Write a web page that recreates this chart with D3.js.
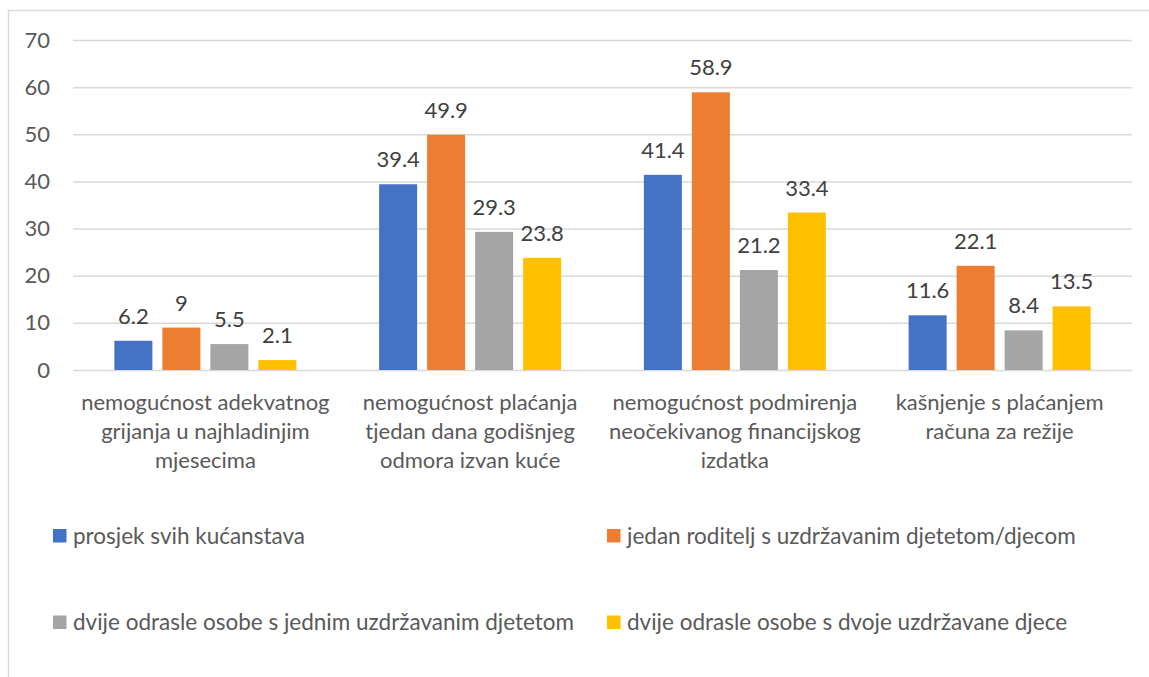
<!DOCTYPE html>
<html>
<head>
<meta charset="utf-8">
<script src="https://cdn.jsdelivr.net/npm/d3@7"></script>
<style>
  body { margin: 0; background: #fff; }
  text { font-family: Lato, "Open Sans", sans-serif; }
</style>
</head>
<body>
<svg id="chart" width="1149" height="677"></svg>
<script>
const categories = [
    ["nemogućnost adekvatnog", "grijanja u najhladinjim", "mjesecima"],
    ["nemogućnost plaćanja", "tjedan dana godišnjeg", "odmora izvan kuće"],
    ["nemogućnost podmirenja", "neočekivanog financijskog", "izdatka"],
    ["kašnjenje s plaćanjem", "računa za režije"]
];
const seriesNames = [
    "prosjek svih kućanstava",
    "jedan roditelj s uzdržavanim djetetom/djecom",
    "dvije odrasle osobe s jednim uzdržavanim djetetom",
    "dvije odrasle osobe s dvoje uzdržavane djece"
];
const seriesColors = ["#4472c4", "#ed7d31", "#a5a5a5", "#ffc000"];
const prosjek = [6.2, 39.4, 41.4, 11.6];
const jedanRoditelj = [9, 49.9, 58.9, 22.1];
const dvijeJedno = [5.5, 29.3, 21.2, 8.4];
const dvijeDvoje = [2.1, 23.8, 33.4, 13.5];
const yTicks = [0, 10, 20, 30, 40, 50, 60, 70];

const values = [prosjek, jedanRoditelj, dvijeJedno, dvijeDvoje];

const svg = d3.select("#chart");
const plotLeft = 73, plotRight = 1132, plotTop = 40, plotBottom = 370;

svg.append("rect")
    .attr("x", 8.5).attr("y", 10.5)
    .attr("width", 1200).attr("height", 700)
    .attr("fill", "none").attr("stroke", "#d9d9d9").attr("stroke-width", 1.5);

const x0 = d3.scaleBand().domain(d3.range(categories.length)).range([plotLeft, plotRight]);
const x1 = d3.scaleBand().domain(d3.range(seriesNames.length))
    .range([0, x0.bandwidth()]).paddingInner(10 / 48).paddingOuter(0.862);
const y = d3.scaleLinear().domain([0, 70]).range([plotBottom, plotTop]);

const yAxis = d3.axisLeft(y).tickValues(yTicks).tickSize(-(plotRight - plotLeft)).tickPadding(23);
const gy = svg.append("g").attr("transform", `translate(${plotLeft},0)`).call(yAxis);
gy.select(".domain").remove();
gy.selectAll(".tick line").attr("stroke", "#d9d9d9").attr("stroke-width", 1.5);
gy.selectAll(".tick text").attr("fill", "#595959").style("font-size", "22px");

const groups = svg.append("g").selectAll("g")
    .data(categories.map((c, i) => i))
    .join("g")
    .attr("transform", (i) => `translate(${x0(i)},0)`);

groups.selectAll("rect")
    .data((i) => values.map((s, j) => ({ j, v: s[i] })))
    .join("rect")
    .attr("x", (d) => x1(d.j))
    .attr("width", x1.bandwidth())
    .attr("y", (d) => y(d.v))
    .attr("height", (d) => y(0) - y(d.v))
    .attr("fill", (d) => seriesColors[d.j]);

groups.selectAll("text.val")
    .data((i) => values.map((s, j) => ({ j, v: s[i] })))
    .join("text")
    .attr("class", "val")
    .attr("x", (d) => x1(d.j) + x1.bandwidth() / 2)
    .attr("y", (d) => y(d.v) - 17)
    .attr("text-anchor", "middle")
    .attr("fill", "#404040")
    .style("font-size", "22px")
    .text((d) => d.v);

groups.append("text")
    .attr("text-anchor", "middle")
    .attr("fill", "#595959")
    .style("font-size", "22px")
    .selectAll("tspan")
    .data((i) => categories[i])
    .join("tspan")
    .attr("x", x0.bandwidth() / 2)
    .attr("y", (d, k) => 410 + k * 29)
    .text((d) => d);

const legendPos = [[53, 535.5], [607, 535.5], [53, 622], [607, 622]];
const legend = svg.append("g").selectAll("g")
    .data(seriesNames)
    .join("g")
    .attr("transform", (d, i) => `translate(${legendPos[i][0]},${legendPos[i][1]})`);
legend.append("rect")
    .attr("x", 0).attr("y", -6.5).attr("width", 13.5).attr("height", 13.5)
    .attr("fill", (d, i) => seriesColors[i]);
legend.append("text")
    .attr("x", 20).attr("y", 8)
    .attr("fill", "#595959")
    .style("font-size", "22.5px")
    .text((d) => d);
</script>
</body>
</html>
